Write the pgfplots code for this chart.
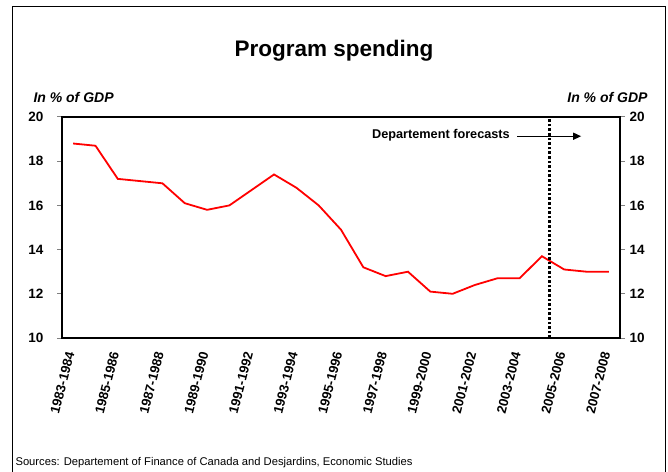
\documentclass[border=0pt]{standalone}
\usepackage{pgfplots}
\pgfplotsset{compat=1.18}
\usepackage{fontspec}
\setmainfont{Liberation Sans}
\usetikzlibrary{arrows.meta}
\begin{document}
\begin{tikzpicture}[x=1pt,y=1pt]
\useasboundingbox (0,0) rectangle (668,471);
\draw[line width=1pt] (12,-10) -- (12,464) -- (665,464) -- (665,-10);
\node[anchor=base,font=\fontsize{22.5}{26}\selectfont\bfseries] at (334,414) {Program spending};
\node[anchor=base west,font=\fontsize{14}{16}\selectfont\bfseries\itshape] at (30,368) {In \% of GDP};
\node[anchor=base east,font=\fontsize{14}{16}\selectfont\bfseries\itshape] at (651,368) {In \% of GDP};
\node[anchor=base west,font=\fontsize{11.2}{13}\selectfont] at (12,6) {Sources: Departement of Finance of Canada and Desjardins, Economic Studies};
\begin{axis}[
  at={(62pt,133pt)}, anchor=south west,
  scale only axis, width=558pt, height=221pt,
  xmin=-0.5, xmax=24.5, ymin=10, ymax=20,
  axis line style={line width=1.2pt},
  xtick={0,2,...,24},
  xticklabels={1983-1984,1985-1986,1987-1988,1989-1990,1991-1992,1993-1994,1995-1996,1997-1998,1999-2000,2001-2002,2003-2004,2005-2006,2007-2008},
  x tick label style={yshift=-6pt,xshift=-2pt,rotate=75.5,anchor=east,font=\fontsize{13.2}{15}\selectfont\bfseries},
  xtick style={draw=none},
  ytick={10,12,...,20},
  ytick pos=left,
  tick align=outside,
  major tick length=5pt,
  ytick style={line width=1pt},
  y tick label style={xshift=-10pt,font=\fontsize{13.5}{15}\selectfont\bfseries},
  /pgf/number format/assume math mode=true,
  clip=false,
]
\addplot[red, line width=1.8pt] coordinates {
(0,18.8) (1,18.7) (2,17.2) (3,17.1) (4,17.0) (5,16.1) (6,15.8) (7,16.0)
(8,16.7) (9,17.4) (10,16.8) (11,16.0) (12,14.9) (13,13.2) (14,12.8) (15,13.0)
(16,12.1) (17,12.0) (18,12.4) (19,12.7) (20,12.7) (21,13.7) (22,13.1) (23,13.0) (24,13.0)};
\draw[black, line width=2.6pt, dash pattern=on 2.6pt off 2pt] (axis cs:21.33,10) -- (axis cs:21.33,20);
\node[anchor=mid east,font=\fontsize{12.7}{14}\selectfont\bfseries] at (axis cs:19.72,19.13) {Departement forecasts};
\draw[line width=1.4pt,-{Triangle[length=8pt,width=7pt]}] (axis cs:19.9,19.13) -- (axis cs:22.76,19.13);
\end{axis}
\begin{axis}[
  at={(62pt,133pt)}, anchor=south west,
  scale only axis, width=558pt, height=221pt,
  xmin=-0.5, xmax=24.5, ymin=10, ymax=20,
  axis line style={line width=1.2pt},
  xtick=\empty,
  ytick={10,12,...,20},
  ytick pos=right, yticklabel pos=right,
  tick align=outside,
  major tick length=5pt,
  ytick style={line width=1pt},
  y tick label style={xshift=1pt,font=\fontsize{13.5}{15}\selectfont\bfseries},
  /pgf/number format/assume math mode=true,
]
\end{axis}
\end{tikzpicture}
\end{document}
